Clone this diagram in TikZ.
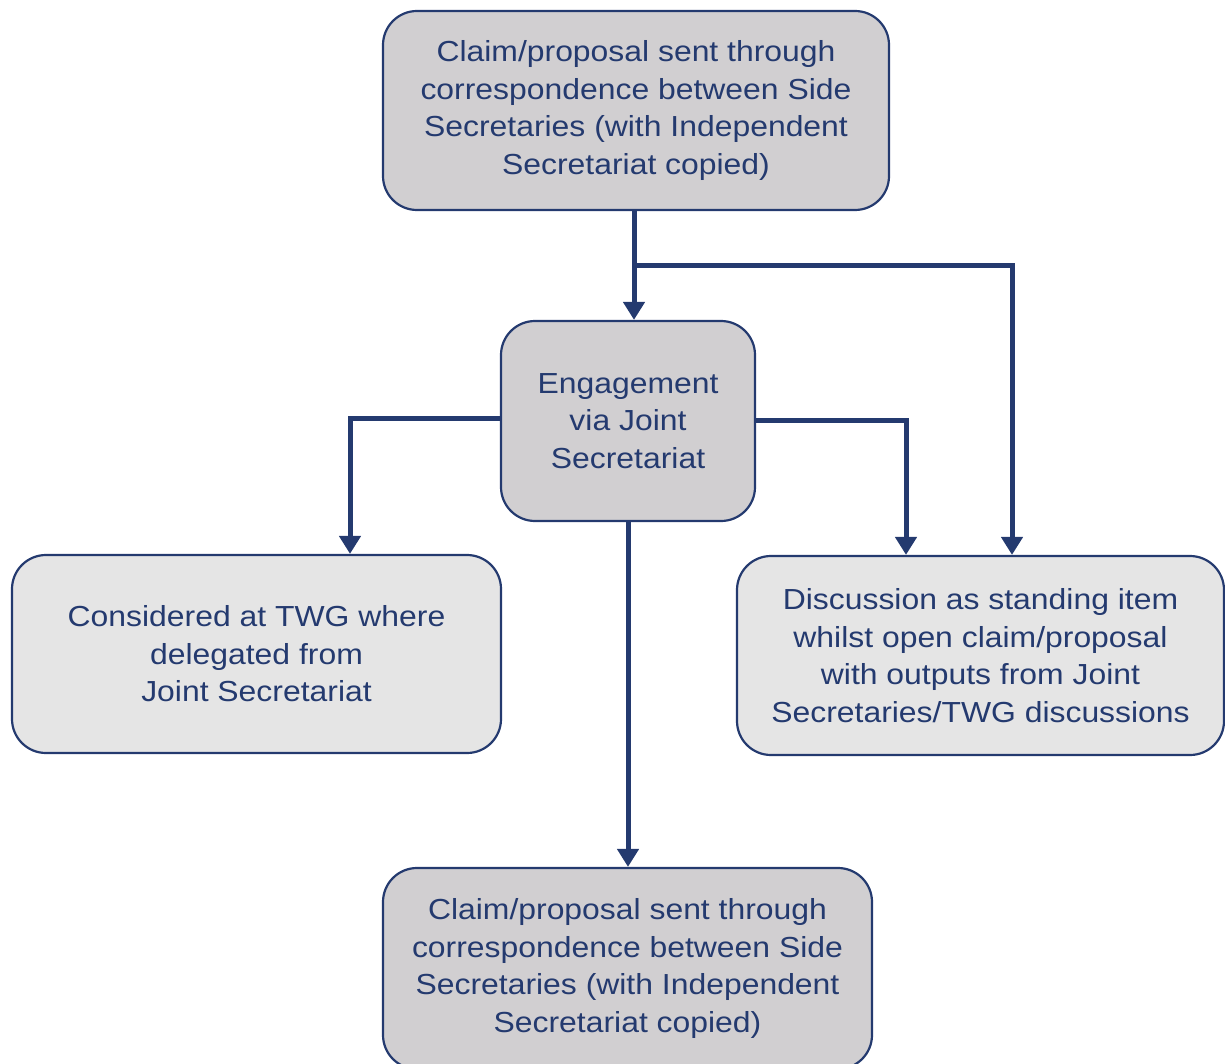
\documentclass[tikz,border=0pt]{standalone}
\usepackage{fontspec}
\setmainfont[FakeStretch=1.1]{Liberation Sans}
\usetikzlibrary{arrows.meta}
\definecolor{navy}{HTML}{243A6F}
\definecolor{darkfill}{HTML}{D1CFD1}
\definecolor{lightfill}{HTML}{E5E5E5}
\tikzset{
  box/.style={draw=navy, line width=2.2pt, rounded corners=34pt, text=navy, align=center,
    font=\fontsize{29}{37.5}\selectfont, inner sep=0pt},
  darkbox/.style={box, fill=darkfill},
  lightbox/.style={box, fill=lightfill},
  conn/.style={draw=navy, line width=5pt, -{Triangle[width=21pt,length=18pt]}},
}
\begin{document}
\begin{tikzpicture}[x=1pt,y=-1pt]
\useasboundingbox (0,0) rectangle (1225,1064);
\node[darkbox, minimum width=506pt, minimum height=199pt] (top) at (636,110.5)
  {Claim/proposal sent through\\correspondence between Side\\Secretaries (with Independent\\Secretariat copied)};
\node[darkbox, minimum width=254pt, minimum height=200pt] (mid) at (628,421)
  {Engagement\\via Joint\\Secretariat};
\node[lightbox, minimum width=489pt, minimum height=198pt] (left) at (256.5,654)
  {Considered at TWG where\\delegated from\\Joint Secretariat};
\node[lightbox, minimum width=487pt, minimum height=199pt] (right) at (980.5,655.5)
  {Discussion as standing item\\whilst open claim/proposal\\with outputs from Joint\\Secretaries/TWG discussions};
\node[darkbox, minimum width=489pt, minimum height=201pt] (bot) at (627.5,968.5)
  {Claim/proposal sent through\\correspondence between Side\\Secretaries (with Independent\\Secretariat copied)};
\coordinate (jt) at (634,266);
\coordinate (jr) at (1012,266);
\coordinate (ml) at (350,418);
\coordinate (mr) at (906,420);
\draw[conn] (top.south -| jt) -- (mid.north -| jt);
\draw[conn] (jt) -- (jr) -- (right.north -| jr);
\draw[conn] (mid.west |- ml) -- (ml) -- (left.north -| ml);
\draw[conn] (mid.east |- mr) -- (mr) -- (right.north -| mr);
\draw[conn] (mid.south) -- (bot.north -| mid.south);
\end{tikzpicture}
\end{document}
